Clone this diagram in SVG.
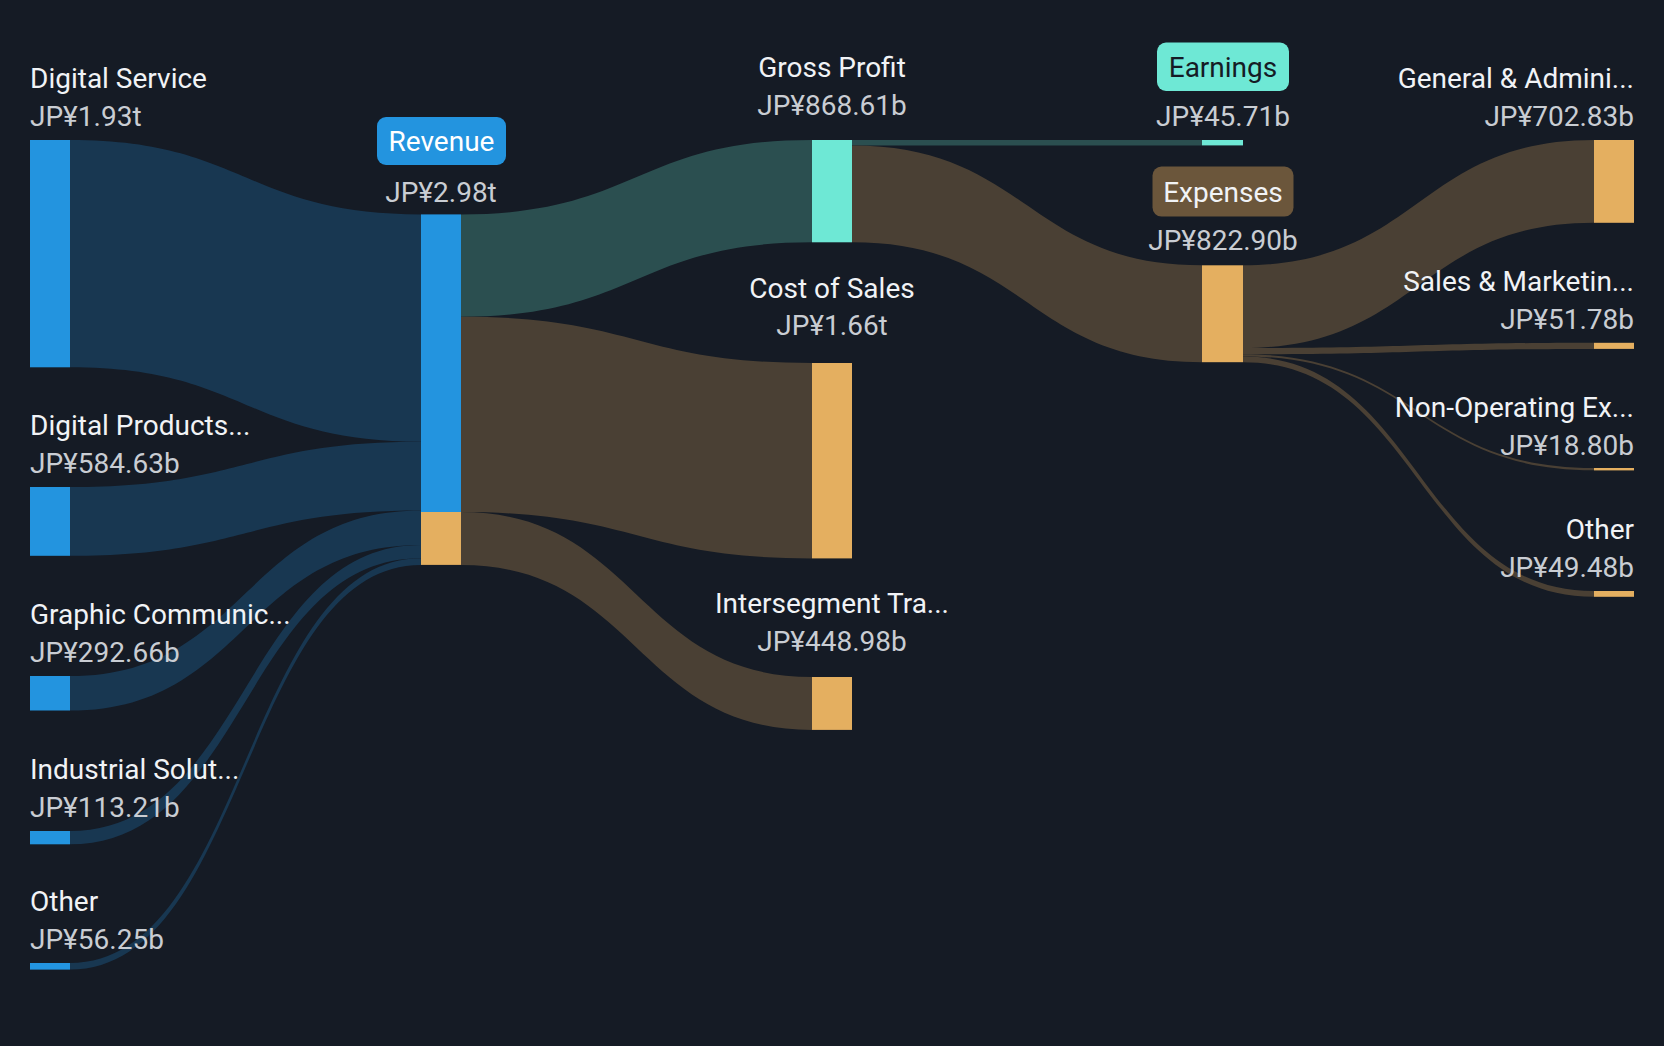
<svg xmlns="http://www.w3.org/2000/svg" width="1664" height="1046" viewBox="0 0 1664 1046">
<style>
.t{font-family:Roboto,"Liberation Sans",sans-serif;font-size:28px;fill:#f1f3f6}
.v{font-family:Roboto,"Liberation Sans",sans-serif;font-size:28px;fill:#c9cdd3}
.m{text-anchor:middle}
.r{text-anchor:end}
.fb{fill:#183751}
.ft{fill:#2b4f50}
.fo{fill:#4a4034}
.nb{fill:#2394df}
.nt{fill:#6ee8d5}
.no{fill:#e4af60}
</style>
<rect width="1664" height="1046" fill="#151b25"/>
<g id="connectors">
<path class="fb" d="M70,140 C245.5,140 245.5,214.4 421,214.4 L421,441.7 C245.5,441.7 245.5,367.3 70,367.3 Z"/>
<path class="fb" d="M70,487 C245.5,487 245.5,441.7 421,441.7 L421,510.5 C245.5,510.5 245.5,555.8 70,555.8 Z"/>
<path class="fb" d="M70,676 C245.5,676 245.5,510.5 421,510.5 L421,545 C245.5,545 245.5,710.5 70,710.5 Z"/>
<path class="fb" d="M70,831 C245.5,831 245.5,545 421,545 L421,558.3 C245.5,558.3 245.5,844.3 70,844.3 Z"/>
<path class="fb" d="M70,963 C245.5,963 245.5,558.3 421,558.3 L421,564.9 C245.5,564.9 245.5,969.6 70,969.6 Z"/>
<path class="ft" d="M461,214.4 C636.5,214.4 636.5,140 812,140 L812,242.3 C636.5,242.3 636.5,316.7 461,316.7 Z"/>
<path class="fo" d="M461,316.7 C636.5,316.7 636.5,363 812,363 L812,558.4 C636.5,558.4 636.5,512.1 461,512.1 Z"/>
<path class="fo" d="M461,512.1 C636.5,512.1 636.5,677 812,677 L812,729.9 C636.5,729.9 636.5,565 461,565 Z"/>
<path class="ft" d="M852,140 L1202,140 L1202,145.4 L852,145.4 Z"/>
<path class="fo" d="M852,145.4 C1027,145.4 1027,265.3 1202,265.3 L1202,362.2 C1027,362.2 1027,242.3 852,242.3 Z"/>
<path class="fo" d="M1243,265.3 C1418.5,265.3 1418.5,140 1594,140 L1594,222.8 C1418.5,222.8 1418.5,348.1 1243,348.1 Z"/>
<path class="fo" d="M1243,348.1 C1418.5,348.1 1418.5,342.8 1594,342.8 L1594,348.9 C1418.5,348.9 1418.5,354.2 1243,354.2 Z"/>
<path class="fo" d="M1243,354.2 C1418.5,354.2 1418.5,468 1594,468 L1594,470.2 C1418.5,470.2 1418.5,356.4 1243,356.4 Z"/>
<path class="fo" d="M1243,356.4 C1418.5,356.4 1418.5,591 1594,591 L1594,596.8 C1418.5,596.8 1418.5,362.2 1243,362.2 Z"/>
</g>
<g id="digital-service">
<rect class="nb" x="30" y="140" width="40" height="227.3"/>
<text class="t" x="30" y="88">Digital Service</text>
<text class="v" x="30" y="126">JP¥1.93t</text>
</g>
<g id="digital-products">
<rect class="nb" x="30" y="487" width="40" height="68.8"/>
<text class="t" x="30" y="435">Digital Products...</text>
<text class="v" x="30" y="473">JP¥584.63b</text>
</g>
<g id="graphic-communications">
<rect class="nb" x="30" y="676" width="40" height="34.5"/>
<text class="t" x="30" y="624">Graphic Communic...</text>
<text class="v" x="30" y="662">JP¥292.66b</text>
</g>
<g id="industrial-solutions">
<rect class="nb" x="30" y="831" width="40" height="13.3"/>
<text class="t" x="30" y="779">Industrial Solut...</text>
<text class="v" x="30" y="817">JP¥113.21b</text>
</g>
<g id="other-segment">
<rect class="nb" x="30" y="963" width="40" height="6.6"/>
<text class="t" x="30" y="911">Other</text>
<text class="v" x="30" y="949">JP¥56.25b</text>
</g>
<g id="revenue">
<rect class="nb" x="421" y="214.4" width="40" height="297.6"/>
<rect class="no" x="421" y="512" width="40" height="52.9"/>
<rect x="377" y="117" width="129" height="48" rx="9" fill="#2394df"/>
<text class="t m" x="441.5" y="151" style="fill:#ffffff">Revenue</text>
<text class="v m" x="441" y="201.5">JP¥2.98t</text>
</g>
<g id="gross-profit">
<rect class="nt" x="812" y="140" width="40" height="102.3"/>
<text class="t m" x="832" y="76.5">Gross Profit</text>
<text class="v m" x="832" y="114.5">JP¥868.61b</text>
</g>
<g id="cost-of-sales">
<rect class="no" x="812" y="363" width="40" height="195.4"/>
<text class="t m" x="832" y="298">Cost of Sales</text>
<text class="v m" x="832" y="335">JP¥1.66t</text>
</g>
<g id="intersegment">
<rect class="no" x="812" y="677" width="40" height="52.9"/>
<text class="t m" x="832" y="613">Intersegment Tra...</text>
<text class="v m" x="832" y="651">JP¥448.98b</text>
</g>
<g id="earnings">
<rect class="nt" x="1202" y="140" width="41" height="5.4"/>
<rect x="1157" y="42.5" width="132" height="48.5" rx="9" fill="#6ee8d5"/>
<text class="t m" x="1223" y="76.5" style="fill:#151b25">Earnings</text>
<text class="v m" x="1223" y="126">JP¥45.71b</text>
</g>
<g id="expenses">
<rect class="no" x="1202" y="265.3" width="41" height="96.9"/>
<rect x="1152.5" y="166.6" width="141" height="50" rx="9" fill="#6b563b"/>
<text class="t m" x="1223" y="201.5">Expenses</text>
<text class="v m" x="1223" y="250">JP¥822.90b</text>
</g>
<g id="general-admin">
<rect class="no" x="1594" y="140" width="40" height="82.8"/>
<text class="t r" x="1634" y="88">General &amp; Admini...</text>
<text class="v r" x="1634" y="126">JP¥702.83b</text>
</g>
<g id="sales-marketing">
<rect class="no" x="1594" y="342.8" width="40" height="6.1"/>
<text class="t r" x="1634" y="291">Sales &amp; Marketin...</text>
<text class="v r" x="1634" y="329">JP¥51.78b</text>
</g>
<g id="non-operating">
<rect class="no" x="1594" y="468" width="40" height="2.4"/>
<text class="t r" x="1634" y="417">Non-Operating Ex...</text>
<text class="v r" x="1634" y="455">JP¥18.80b</text>
</g>
<g id="other-expenses">
<rect class="no" x="1594" y="591" width="40" height="5.8"/>
<text class="t r" x="1634" y="539">Other</text>
<text class="v r" x="1634" y="577">JP¥49.48b</text>
</g>
</svg>
